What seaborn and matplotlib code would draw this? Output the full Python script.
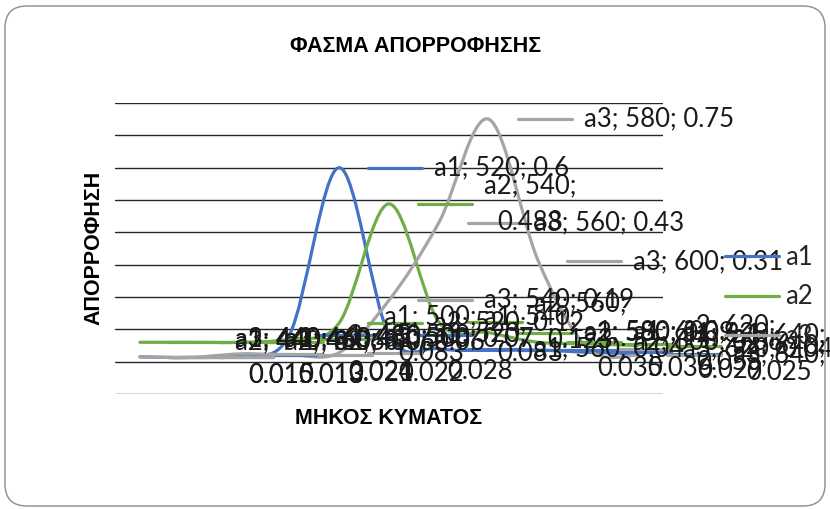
import numpy as np
import pandas as pd
import matplotlib
matplotlib.use('Agg')
import matplotlib.pyplot as plt
import seaborn as sns
from matplotlib.path import Path
from matplotlib.patches import PathPatch, FancyBboxPatch
from matplotlib.lines import Line2D

# data
wavelengths = [440, 460, 480, 500, 520, 540, 560, 580, 600, 620, 640]
a1 = [0.015, 0.013, 0.021, 0.083, 0.6, 0.083, 0.04, 0.035, 0.036, 0.029, 0.025]
a2 = [0.06, 0.06, 0.06, 0.07, 0.12, 0.488, 0.123, 0.09, 0.06, 0.055, 0.05]
a3 = [0.015, 0.013, 0.024, 0.022, 0.028, 0.19, 0.43, 0.75, 0.31, 0.04, 0.02]
series_names = ['a1', 'a2', 'a3']
colors = ['#4472C4', '#70AD47', '#A5A5A5']

n = len(wavelengths)
df = pd.DataFrame({
    'pos': list(range(n)) * 3,
    'wl': wavelengths * 3,
    'value': a1 + a2 + a3,
    'series': np.repeat(series_names, n),
})

sns.set_style('white')
plt.rcParams['font.family'] = ['Lato', 'Noto Sans', 'DejaVu Sans']


def smooth_path(xs, ys):
    # excel-like smoothed line (bezier through the points)
    pts = np.column_stack([xs, ys])
    verts = [pts[0]]
    codes = [Path.MOVETO]
    for i in range(len(pts) - 1):
        p0 = pts[i - 1] if i > 0 else pts[i]
        p1 = pts[i]
        p2 = pts[i + 1]
        p3 = pts[i + 2] if i + 2 < len(pts) else pts[i + 1]
        verts += [p1 + (p2 - p0) / 6, p2 - (p3 - p1) / 6, p2]
        codes += [Path.CURVE4] * 3
    return Path(verts, codes)


fig = plt.figure(figsize=(8.3, 5.09), dpi=100)
fig.patches.append(FancyBboxPatch((0.05, 0.03), 8.2, 5.0, boxstyle='round,pad=0,rounding_size=0.22',
                                  transform=fig.dpi_scale_trans, facecolor='none',
                                  edgecolor='#8c8c8c', lw=1.0))

ax = fig.add_axes([0.1386, 0.2259, 0.6602, 0.5717])
sns.lineplot(data=df, x='pos', y='value', hue='series', palette=colors, ax=ax, legend=False)

# replace straight segments by smoothed curves
for line, c in zip(list(ax.lines), colors):
    xs, ys = line.get_xdata(), line.get_ydata()
    line.set_visible(False)
    ax.add_patch(PathPatch(smooth_path(xs, ys), fill=False, edgecolor=c, lw=2.3,
                           capstyle='round', zorder=3))

ax.set_xlim(-0.5, n - 0.5)
ax.set_ylim(-0.1, 0.8)
ax.set_yticks(np.arange(-0.1, 0.81, 0.1))
ax.set_xticks([])
ax.tick_params(axis='y', length=0, labelleft=False)
ax.yaxis.grid(True, color='#262626', lw=1.0)
ax.set_xlabel('')
ax.set_ylabel('')
sns.despine(ax=ax, left=True, bottom=True)

# data labels with legend keys
cat_px = 548 / n
lab_fs = 18.5
for name, c in zip(series_names, colors):
    sub = df[df['series'] == name]
    for _, r in sub.iterrows():
        x, y = r['pos'], r['value']
        val = f"{y:g}"
        txt = f"{name}; {r['wl']}; {val}"
        if len(txt) > 13:
            txt = f"{name}; {r['wl']};\n{val}"
        ax.plot([x + 29 / cat_px, x + 83 / cat_px], [y, y], color=c, lw=2.3,
                clip_on=False, zorder=4)
        ax.text(x + 95 / cat_px, y, txt, ha='left', va='center', multialignment='center',
                fontsize=lab_fs, color='#1a1a1a', linespacing=1.6, clip_on=False, zorder=5)

handles = [Line2D([0], [0], color=c, lw=2.3) for c in colors]
fig.legend(handles, series_names, loc='center left', bbox_to_anchor=(725 / 830, 1 - 297 / 509),
           frameon=False, fontsize=lab_fs, handlelength=2.1, handletextpad=0.25,
           labelspacing=0.55, borderpad=0, borderaxespad=0)

greek = ['Liberation Sans', 'DejaVu Sans']
fig.text(416 / 830, 1 - 47 / 509, 'ΦΑΣΜΑ ΑΠΟΡΡΟΦΗΣΗΣ', ha='center', va='center',
         fontsize=15.5, fontweight='bold', color='black', family=greek)
fig.text(94 / 830, 1 - 248 / 509, 'ΑΠΟΡΡΟΦΗΣΗ', ha='center', va='center', rotation=90,
         fontsize=15.5, fontweight='bold', color='black', family=greek)
fig.text(389 / 830, 1 - 418 / 509, 'ΜΗΚΟΣ ΚΥΜΑΤΟΣ', ha='center', va='center',
         fontsize=15.5, fontweight='bold', color='black', family=greek)

fig.savefig('out.png', dpi=100)
